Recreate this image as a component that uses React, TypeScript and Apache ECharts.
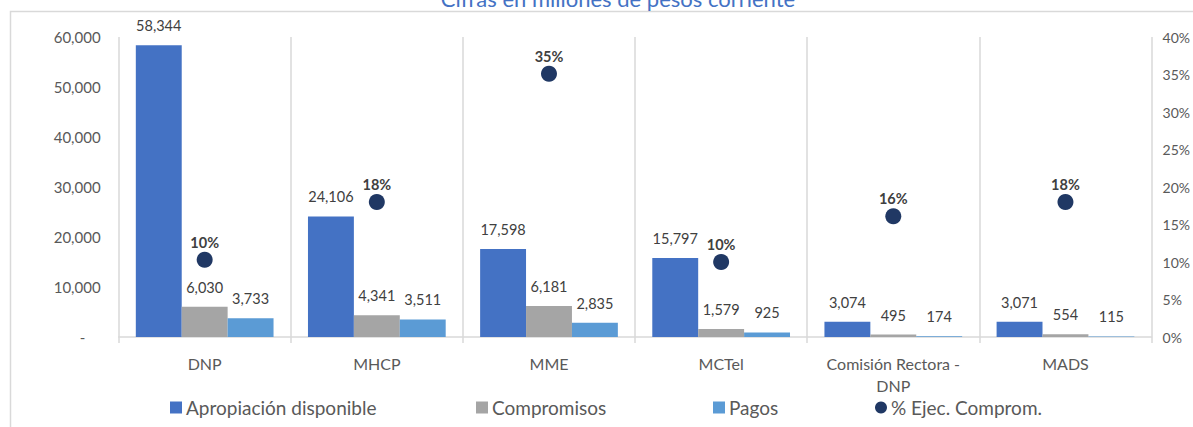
import React, { useEffect, useRef } from "react";
import * as echarts from "echarts";

const categories = ["DNP", "MHCP", "MME", "MCTel", "Comisión Rectora - DNP", "MADS"];
const apropiacion = [58344, 24106, 17598, 15797, 3074, 3071];
const compromisos = [6030, 4341, 6181, 1579, 495, 554];
const pagos = [3733, 3511, 2835, 925, 174, 115];
const ejecucion = [10.3, 18.0, 35.1, 10.0, 16.1, 18.0];
const leftTicks = [0, 10000, 20000, 30000, 40000, 50000, 60000];
const rightTicks = [0, 5, 10, 15, 20, 25, 30, 35, 40];
const title = "Cifras en millones de pesos corriente";
const seriesNames = ["Apropiación disponible", "Compromisos", "Pagos", "% Ejec. Comprom."];

const FONT = "Lato, 'Open Sans', sans-serif";
const fmt = (v: number) => v.toLocaleString("en-US");

export default function App() {
  const ref = useRef<HTMLDivElement>(null);
  useEffect(() => {
    document.body.style.margin = "0";
    const chart = echarts.init(ref.current!, null, { renderer: "svg" });
    const barLabel = {
      show: true,
      position: "top" as const,
      distance: 12,
      fontFamily: FONT,
      fontSize: 14.5,
      color: "#404040",
      formatter: (p: any) => fmt(p.value),
    };
    const legendLefts = [165, 471, 708, 870];
    const legendBase = {
      bottom: 5,
      itemWidth: 12,
      itemHeight: 12,
      itemGap: 4,
      textStyle: { fontFamily: FONT, fontSize: 19, color: "#595959", padding: [0, 0, 0, -1] },
    };
    chart.setOption({
      animation: false,
      textStyle: { fontFamily: FONT },
      title: {
        text: title,
        left: 613,
        textAlign: "center",
        top: -18,
        textStyle: { fontFamily: FONT, fontSize: 22, fontWeight: "normal", color: "#4472C4" },
      },
      graphic: [
        {
          type: "rect",
          shape: { x: 10.5, y: 11.5, width: 1300, height: 600 },
          style: { fill: "none", stroke: "#D9D9D9", lineWidth: 1.5 },
          silent: true,
        },
      ],
      legend: seriesNames.map((n, i) => ({
        ...legendBase,
        left: legendLefts[i],
        data: [{ name: n, icon: i === 3 ? "circle" : "rect" }],
      })),
      grid: { left: 118.6, right: 39.5, top: 37, bottom: 90, containLabel: false },
      xAxis: {
        type: "category",
        data: categories,
        boundaryGap: true,
        axisLine: { lineStyle: { color: "#D9D9D9", width: 1.5 } },
        axisTick: { show: true, interval: 0, length: 6, lineStyle: { color: "#D9D9D9", width: 1.5 } },
        splitLine: { show: true, interval: 0, lineStyle: { color: "#D9D9D9", width: 1.5 } },
        axisLabel: {
          interval: 0,
          fontFamily: FONT,
          fontSize: 16,
          color: "#595959",
          margin: 15,
          lineHeight: 22,
          formatter: (v: string) => v.replace(" - ", " -\n"),
        },
      },
      yAxis: [
        {
          type: "value",
          min: 0,
          max: 60000,
          interval: 10000,
          splitLine: { show: false },
          axisLine: { show: false },
          axisTick: { show: false },
          axisLabel: {
            fontFamily: FONT,
            fontSize: 15,
            color: "#595959",
            margin: 18,
            formatter: (v: number) => (v === leftTicks[0] ? "-    " : fmt(v)),
          },
        },
        {
          type: "value",
          min: 0,
          max: 40,
          interval: 5,
          position: "right",
          splitLine: { show: false },
          axisLine: { show: false },
          axisTick: { show: false },
          axisLabel: {
            fontFamily: FONT,
            fontSize: 14,
            color: "#595959",
            margin: 11,
            formatter: (v: number) => (rightTicks.includes(v) ? v + "%" : ""),
          },
        },
      ],
      series: [
        {
          name: seriesNames[0],
          type: "bar",
          data: apropiacion,
          barGap: "0%",
          barCategoryGap: "20%",
          itemStyle: { color: "#4472C4" },
          label: barLabel,
        },
        {
          name: seriesNames[1],
          type: "bar",
          data: compromisos,
          barGap: "0%",
          barCategoryGap: "20%",
          itemStyle: { color: "#A5A5A5" },
          label: barLabel,
        },
        {
          name: seriesNames[2],
          type: "bar",
          data: pagos,
          barGap: "0%",
          barCategoryGap: "20%",
          itemStyle: { color: "#5B9BD5" },
          label: barLabel,
        },
        {
          name: seriesNames[3],
          type: "scatter",
          yAxisIndex: 1,
          data: ejecucion,
          symbol: "circle",
          symbolSize: 16,
          itemStyle: { color: "#203864", opacity: 1 },
          label: {
            show: true,
            position: "top",
            distance: 2,
            fontFamily: FONT,
            fontSize: 14.5,
            fontWeight: "bold",
            color: "#404040",
            formatter: (p: any) => Math.round(p.value) + "%",
          },
        },
      ],
    });
    return () => chart.dispose();
  }, []);
  return <div ref={ref} style={{ width: 1193, height: 427 }} />;
}
